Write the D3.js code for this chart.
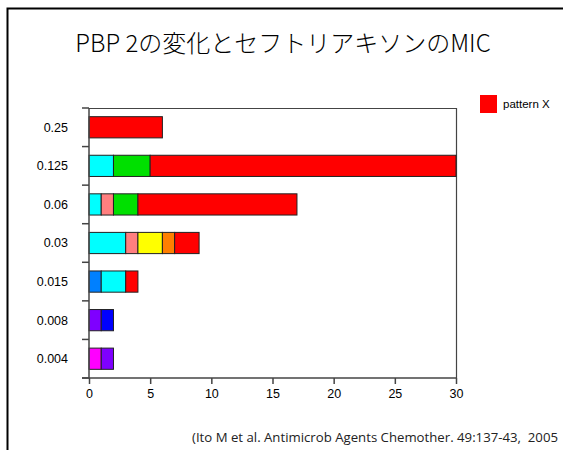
<!DOCTYPE html>
<html>
<head>
<meta charset="utf-8">
<script src="https://cdn.jsdelivr.net/npm/d3@7"></script>
<style>
  body { margin: 0; background: #fff; }
  svg { display: block; font-family: "Liberation Sans", Arial, sans-serif; }
</style>
</head>
<body>
<div id="canvas"></div>
<script>
const w = 563, h = 450;

// MIC categories, top to bottom
const categories = ["0.25", "0.125", "0.06", "0.03", "0.015", "0.008", "0.004"];
// stacked segments per category (counts), each with its colour
const segColors = {
  magenta: "#ff00ff", purple: "#7f00ff", blue: "#0000ff", dodger: "#0080ff",
  cyan: "#00ffff", salmon: "#ff7f7f", green: "#00e000", yellow: "#ffff00",
  orange: "#ff7f00", red: "#ff0000"
};
const seg025 = [["red", 6]];
const seg0125 = [["cyan", 2], ["green", 3], ["red", 25]];
const seg006 = [["cyan", 1], ["salmon", 1], ["green", 2], ["red", 13]];
const seg003 = [["cyan", 3], ["salmon", 1], ["yellow", 2], ["orange", 1], ["red", 2]];
const seg0015 = [["dodger", 1], ["cyan", 2], ["red", 1]];
const seg0008 = [["purple", 1], ["blue", 1]];
const seg0004 = [["magenta", 1], ["purple", 1]];
const segments = [seg025, seg0125, seg006, seg003, seg0015, seg0008, seg0004];
const xTicks = [0, 5, 10, 15, 20, 25, 30];

const margin = {left: 89, right: 107, top: 108, bottom: 72};

let svg = d3.select("#canvas")
  .append("svg")
    .attr("width", w)
    .attr("height", h)
    .attr("viewBox", [0, 0, w, h]);

// outer frame (only top and left edges visible)
svg.append("path")
  .attr("d", "M7.5," + h + " L7.5,8.5 L" + w + ",8.5")
  .attr("fill", "none")
  .attr("stroke", "#000")
  .attr("stroke-width", 2);

svg.append("text")
  .attr("x", 283)
  .attr("y", 52)
  .attr("text-anchor", "middle")
  .attr("font-size", 24)
  .attr("font-family", "'Noto Sans CJK JP', 'Liberation Sans', sans-serif")
  .attr("font-weight", 300)
  .text("PBP 2の変化とセフトリアキソンのMIC");

const x = d3.scaleLinear()
  .domain([0, 30])
  .range([margin.left, w - margin.right]);
const y = d3.scaleBand()
  .domain(categories)
  .range([margin.top, h - margin.bottom])
  .paddingInner(0.45)
  .paddingOuter(0.225);

// plot border (top and right)
svg.append("path")
  .attr("d", "M" + x(0) + "," + (margin.top + 0.5) + " H" + (x(30) + 0.5) + " V" + (h - margin.bottom))
  .attr("fill", "none")
  .attr("stroke", "#444")
  .attr("stroke-width", 1.2);

// bars
const g = svg.append("g");
categories.forEach((c, i) => {
  let acc = 0;
  segments[i].forEach(s => {
    g.append("rect")
      .attr("x", x(acc))
      .attr("y", y(c))
      .attr("width", x(acc + s[1]) - x(acc))
      .attr("height", y.bandwidth())
      .attr("fill", segColors[s[0]])
      .attr("stroke", "#222")
      .attr("stroke-width", 1);
    acc += s[1];
  });
});

// y axis: ticks between categories
const yAxisG = svg.append("g");
yAxisG.append("line")
  .attr("x1", x(0)).attr("x2", x(0))
  .attr("y1", margin.top).attr("y2", h - margin.bottom)
  .attr("stroke", "#444").attr("stroke-width", 1.5);
d3.range(categories.length + 1).forEach(i => {
  const yy = margin.top + i * (h - margin.bottom - margin.top) / categories.length;
  yAxisG.append("line")
    .attr("x1", x(0) - 7).attr("x2", x(0))
    .attr("y1", yy).attr("y2", yy)
    .attr("stroke", "#444").attr("stroke-width", 1.5);
});
yAxisG.selectAll("text.cat")
  .data(categories)
  .enter().append("text")
    .attr("class", "cat")
    .attr("x", 68)
    .attr("y", d => y(d) + y.bandwidth() / 2)
    .attr("dy", "0.35em")
    .attr("text-anchor", "end")
    .attr("font-size", 12.5)
    .text(d => d);

// x axis
const xAxis = d3.axisBottom(x)
  .tickValues(xTicks)
  .tickSize(6)
  .tickPadding(5);
const gX = svg.append("g")
  .attr("transform", "translate(0," + (h - margin.bottom) + ")")
  .call(xAxis);
gX.select(".domain").remove();
gX.append("line")
  .attr("x1", x(0) - 7).attr("x2", x(30))
  .attr("stroke", "#444").attr("stroke-width", 1.5);
gX.selectAll(".tick line").attr("stroke", "#444").attr("stroke-width", 1.5);
gX.selectAll(".tick text")
  .attr("font-size", 12.5)
  .attr("fill", "#000")
  .attr("font-family", "'Liberation Sans', Arial, sans-serif");

// legend
svg.append("rect")
  .attr("x", 480).attr("y", 95)
  .attr("width", 17).attr("height", 18)
  .attr("fill", "#ff0000");
svg.append("text")
  .attr("x", 503).attr("y", 108)
  .attr("font-size", 11.5)
  .text("pattern X");

// citation
svg.append("text")
  .attr("x", 192).attr("y", 442)
  .attr("font-size", 13)
  .attr("font-family", "'Open Sans', sans-serif")
  .attr("fill", "#222")
  .attr("textLength", 366)
  .attr("lengthAdjust", "spacingAndGlyphs")
  .style("white-space", "pre")
  .text("(Ito M et al. Antimicrob Agents Chemother. 49:137-43,  2005");
</script>
</body>
</html>
